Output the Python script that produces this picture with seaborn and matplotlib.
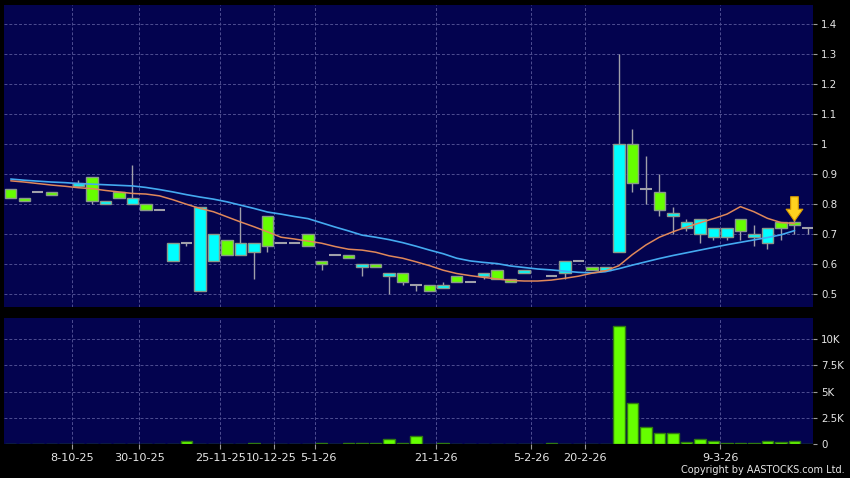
import numpy as np
import pandas as pd
import matplotlib
matplotlib.use("Agg")
import matplotlib.pyplot as plt
import matplotlib.transforms as mtransforms
import seaborn as sns

nan = np.nan

# daily candles, one slot per trading day shown on the chart
opens = [0.85, 0.82, 0.84, 0.84, nan, 0.86, 0.89, 0.80, 0.84, 0.80,
         0.80, 0.78, 0.61, 0.67, 0.51, 0.61, 0.68, 0.63, 0.64, 0.76,
         0.67, 0.67, 0.70, 0.61, 0.63, 0.63, 0.59, 0.60, 0.56, 0.57,
         0.53, 0.53, 0.52, 0.56, 0.54, 0.56, 0.58, 0.55, 0.57, nan,
         0.56, 0.57, 0.61, 0.59, 0.58, 0.64, 1.00, 0.85, 0.84, 0.76,
         0.72, 0.70, 0.69, 0.69, 0.75, 0.69, 0.67, 0.74, 0.74, 0.72]
closes = [0.82, 0.81, 0.84, 0.83, nan, 0.87, 0.81, 0.81, 0.82, 0.82,
          0.78, 0.78, 0.67, 0.67, 0.79, 0.70, 0.63, 0.67, 0.67, 0.66,
          0.67, 0.67, 0.66, 0.60, 0.63, 0.62, 0.60, 0.59, 0.57, 0.54,
          0.53, 0.51, 0.53, 0.54, 0.54, 0.57, 0.55, 0.54, 0.58, nan,
          0.56, 0.61, 0.61, 0.58, 0.59, 1.00, 0.87, 0.85, 0.78, 0.77,
          0.74, 0.75, 0.72, 0.72, 0.71, 0.70, 0.72, 0.72, 0.73, 0.72]
highs = [0.85, 0.82, 0.84, 0.84, nan, 0.88, 0.89, 0.81, 0.84, 0.93,
         0.80, 0.78, 0.67, 0.67, 0.79, 0.70, 0.68, 0.79, 0.67, 0.76,
         0.67, 0.67, 0.70, 0.61, 0.63, 0.63, 0.60, 0.60, 0.57, 0.57,
         0.53, 0.53, 0.54, 0.56, 0.54, 0.57, 0.58, 0.55, 0.58, nan,
         0.56, 0.61, 0.61, 0.59, 0.59, 1.30, 1.05, 0.96, 0.90, 0.79,
         0.75, 0.75, 0.72, 0.72, 0.75, 0.73, 0.72, 0.74, 0.76, 0.72]
lows = [0.82, 0.81, 0.84, 0.83, nan, 0.86, 0.80, 0.80, 0.82, 0.80,
        0.78, 0.78, 0.61, 0.66, 0.51, 0.61, 0.63, 0.63, 0.55, 0.64,
        0.67, 0.67, 0.66, 0.58, 0.63, 0.62, 0.56, 0.59, 0.50, 0.53,
        0.51, 0.51, 0.52, 0.54, 0.54, 0.55, 0.55, 0.54, 0.57, nan,
        0.56, 0.55, 0.61, 0.58, 0.58, 0.64, 0.84, 0.80, 0.76, 0.70,
        0.71, 0.67, 0.68, 0.68, 0.68, 0.66, 0.65, 0.68, 0.70, 0.70]
volumes = [40, 30, 10, 10, 0, 20, 10, 10, 10, 10,
           10, 10, 10, 270, 20, 10, 10, 10, 120, 30,
           10, 20, 10, 100, 10, 80, 120, 80, 430, 100,
           750, 10, 80, 10, 30, 20, 10, 10, 10, 0,
           80, 30, 10, 10, 10, 11300, 3960, 1600, 1070, 1050,
           170, 430, 240, 50, 100, 100, 330, 200, 240, 0]
ma_short = [0.878, 0.874, 0.869, 0.864, 0.860, 0.855, 0.852, 0.846, 0.841, 0.836,
            0.834, 0.828, 0.815, 0.800, 0.786, 0.775, 0.758, 0.741, 0.725, 0.708,
            0.690, 0.684, 0.677, 0.670, 0.659, 0.650, 0.647, 0.640, 0.628, 0.620,
            0.608, 0.595, 0.580, 0.569, 0.562, 0.556, 0.551, 0.546, 0.544, 0.544,
            0.547, 0.553, 0.560, 0.570, 0.578, 0.595, 0.632, 0.664, 0.690, 0.708,
            0.724, 0.738, 0.752, 0.767, 0.792, 0.775, 0.753, 0.739, 0.736, nan]
ma_long = [0.884, 0.880, 0.877, 0.874, 0.872, 0.869, 0.867, 0.865, 0.863, 0.861,
           0.856, 0.849, 0.841, 0.832, 0.824, 0.817, 0.808, 0.797, 0.786, 0.774,
           0.767, 0.759, 0.752, 0.738, 0.724, 0.711, 0.697, 0.690, 0.682, 0.672,
           0.660, 0.647, 0.635, 0.620, 0.611, 0.606, 0.602, 0.594, 0.589, 0.584,
           0.581, 0.577, 0.573, 0.571, 0.575, 0.585, 0.597, 0.608, 0.619, 0.629,
           0.638, 0.647, 0.656, 0.665, 0.673, 0.681, 0.689, 0.698, 0.712, nan]

date_labels = ["8-10-25", "30-10-25", "25-11-25", "10-12-25", "5-1-26",
               "21-1-26", "5-2-26", "20-2-26", "9-3-26"]
date_slots = [4.5, 9.5, 15.5, 19.5, 22.5, 31.5, 38.5, 42.5, 52.5]
price_ticks = [0.5, 0.6, 0.7, 0.8, 0.9, 1.0, 1.1, 1.2, 1.3, 1.4]
vol_ticks = [0, 2500, 5000, 7500, 10000]
vol_labels = ["0", "2.5K", "5K", "7.5K", "10K"]
marked_slot = 58

df = pd.DataFrame({"open": opens, "close": closes, "high": highs, "low": lows,
                   "volume": volumes, "ma_short": ma_short, "ma_long": ma_long})
df["slot"] = np.arange(len(df))

sns.set_style("dark")
plt.rcParams["font.family"] = ["DejaVu Sans"]

PANEL = "#03034f"
GRID = "#4e4e92"
TXT = "#e6e6e6"
UP = "#00ffff"
DOWN = "#66ff00"
WICK = "#a0a0aa"

fig = plt.figure(figsize=(8.5, 4.78), dpi=100, facecolor="black")
ax_p = fig.add_axes([4 / 850, 1 - 306.5 / 478, 809 / 850, 301.5 / 478])
ax_v = fig.add_axes([4 / 850, 1 - 444 / 478, 809 / 850, 125.7 / 478], sharex=ax_p)

for ax in (ax_p, ax_v):
    ax.set_facecolor(PANEL)
    for s in ax.spines.values():
        s.set_visible(False)
    ax.set_xticks(date_slots)
    ax.grid(True, color=GRID, linestyle=(0, (3, 2)), linewidth=0.7)
    ax.set_axisbelow(True)
    ax.yaxis.tick_right()
    ax.tick_params(axis="y", colors="#9a9a9a", labelcolor=TXT, labelsize=7.4,
                   length=3, width=0.8, pad=3, left=False, right=True)

# price panel
c = df.dropna(subset=["open"])
ax_p.vlines(c["slot"], c["low"], c["high"], color=WICK, linewidth=1, zorder=2)
body = c[c["open"] != c["close"]]
colors = np.where(body["close"] > body["open"], UP, DOWN)
ax_p.bar(body["slot"], (body["close"] - body["open"]).abs(),
         bottom=body[["open", "close"]].min(axis=1), width=0.85,
         color=colors, edgecolor="#8a9a8a", linewidth=1, zorder=3)
doji = c[c["open"] == c["close"]]
ax_p.hlines(doji["close"], doji["slot"] - 0.42, doji["slot"] + 0.42,
            color=WICK, linewidth=1.5, zorder=3)

sns.lineplot(data=df, x="slot", y="ma_long", color="#44aaf0", linewidth=1.2,
             ax=ax_p, zorder=4)
sns.lineplot(data=df, x="slot", y="ma_short", color="#e0885a", linewidth=1.1,
             ax=ax_p, zorder=4)

tip = max(opens[marked_slot], closes[marked_slot])
ax_p.annotate("", xy=(marked_slot, tip + 0.004), xytext=(marked_slot, tip + 0.085),
              arrowprops=dict(arrowstyle="simple,head_width=1.2,head_length=0.85,tail_width=0.55",
                              mutation_scale=10, fc="#ffd21f", ec="#d89a00",
                              lw=0.8, shrinkA=0, shrinkB=0), zorder=6)

ax_p.set_ylim(0.459, 1.4643)
ax_p.set_xlim(-0.5, 59.37)
ax_p.set_yticks(price_ticks)
ax_p.set_yticklabels([f"{t:g}" for t in price_ticks])
ax_p.tick_params(axis="x", bottom=False, labelbottom=False)
ax_p.set_xlabel("")
ax_p.set_ylabel("")

# volume panel
sns.barplot(data=df, x="slot", y="volume", native_scale=True, width=0.85,
            color=DOWN, saturation=1, edgecolor="#2f7a10", linewidth=1,
            ax=ax_v, zorder=3)
ax_v.set_ylim(0, 12000)
ax_v.set_xlim(-0.5, 59.37)
ax_v.set_yticks(vol_ticks)
ax_v.set_yticklabels(vol_labels)
ax_v.set_xticks(date_slots)
ax_v.set_xticklabels(date_labels)
ax_v.tick_params(axis="x", colors="#9a9a9a", labelcolor=TXT, labelsize=8.1,
                 length=3.5, width=0.8, pad=3, bottom=True)
ax_v.set_xlabel("")
ax_v.set_ylabel("")

# the two December/January labels sit very close; nudge them apart a little
nudge = {"10-12-25": -3, "5-1-26": 4}
for lbl in ax_v.get_xticklabels():
    dx = nudge.get(lbl.get_text(), 0)
    if dx:
        lbl.set_transform(lbl.get_transform() +
                          mtransforms.ScaledTranslation(dx / 100, 0, fig.dpi_scale_trans))

fig.text(845 / 850, 1 - 470 / 478, "Copyright by AASTOCKS.com Ltd.", color=TXT,
         fontsize=7, ha="right", va="center")

fig.savefig("out.png", dpi=100, facecolor="black")
